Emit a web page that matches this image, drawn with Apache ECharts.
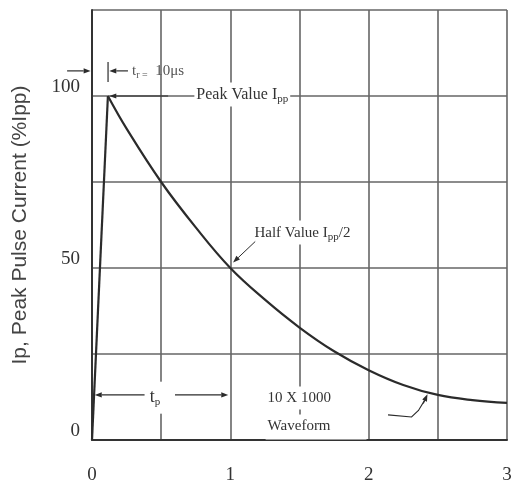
<!DOCTYPE html>
<html>
<head>
<meta charset="utf-8">
<script src="https://cdn.jsdelivr.net/npm/echarts@6/dist/echarts.min.js"></script>
<style>
  html, body { margin: 0; padding: 0; background: #fff; }
  #chart { width: 519px; height: 484px; }
</style>
</head>
<body>
<div id="chart"></div>
<script>
// time in units of the decay (0..3), current in % of Ipp
const riseT = [0, 0.115]
const riseV = [0, 100]
const decayT = [0.115, 0.25, 0.5, 0.75, 1.0, 1.25, 1.5, 1.75, 2.0, 2.25, 2.5, 2.75, 3.0]
const decayV = [100, 90.5, 75, 61.8, 50, 40.8, 32.7, 25.8, 20.3, 16.0, 13.1, 11.6, 10.8]
const xTickLabels = [0, 1, 2, 3]
const yTickLabels = [0, 50, 100]

const INK = "#2b2b2b"
const SERIF = "Liberation Serif"

const chart = echarts.init(document.getElementById("chart"), null, { renderer: "canvas" })

chart.setOption({
  animation: false,
  grid: { left: 92, right: 12, top: 10, bottom: 44, containLabel: false, outerBoundsMode: "none" },
  xAxis: {
    type: "value",
    min: 0,
    max: 3,
    interval: 0.5,
    axisLine: { lineStyle: { color: "#333", width: 2 } },
    axisTick: { show: false },
    axisLabel: {
      margin: 26,
      color: "#333",
      fontFamily: SERIF,
      fontSize: 19,
      formatter: v => (xTickLabels.includes(v) ? String(v) : "")
    },
    splitLine: { show: true, lineStyle: { color: "#666", width: 1.6 } }
  },
  yAxis: {
    type: "value",
    min: 0,
    max: 125,
    interval: 25,
    name: "Ip, Peak Pulse Current (%Ipp)",
    nameLocation: "middle",
    nameGap: 61,
    nameTextStyle: { color: "#444", fontFamily: "Liberation Sans", fontSize: 21 },
    axisLine: { show: true, lineStyle: { color: "#333", width: 2 } },
    axisTick: { show: false },
    axisLabel: {
      margin: 12,
      color: "#333",
      fontFamily: SERIF,
      fontSize: 19,
      lineHeight: 18,
      verticalAlign: "bottom",
      formatter: v => (yTickLabels.includes(v) ? String(v) : "")
    },
    splitLine: { show: true, lineStyle: { color: "#666", width: 1.6 } }
  },
  series: [
    {
      type: "line",
      showSymbol: false,
      lineStyle: { color: INK, width: 2.2 },
      data: riseT.map((t, i) => [t, riseV[i]])
    },
    {
      type: "line",
      showSymbol: false,
      smooth: 0.4,
      lineStyle: { color: INK, width: 2.2 },
      data: decayT.map((t, i) => [t, decayV[i]])
    }
  ]
})

// annotations are placed in data units and converted through the grid
const px = (t, v) => chart.convertToPixel({ gridIndex: 0 }, [t, v])

function arrow(from, to, width) {
  const a = px(from[0], from[1])
  const b = px(to[0], to[1])
  const ang = Math.atan2(b[1] - a[1], b[0] - a[0])
  const len = 7, half = 2.6
  const bx = b[0] - Math.cos(ang) * len, by = b[1] - Math.sin(ang) * len
  const nx = -Math.sin(ang) * half, ny = Math.cos(ang) * half
  return [
    { type: "line", z: 20, shape: { x1: a[0], y1: a[1], x2: bx, y2: by }, style: { stroke: INK, lineWidth: width || 1.2 } },
    { type: "polygon", z: 20, shape: { points: [[b[0], b[1]], [bx + nx, by + ny], [bx - nx, by - ny]] }, style: { fill: INK } }
  ]
}

function label(t, v, text, opts) {
  const p = px(t, v)
  return {
    type: "text",
    z: 15,
    x: p[0],
    y: p[1],
    style: Object.assign({
      text,
      fill: "#333",
      font: "15px " + SERIF,
      align: "left",
      verticalAlign: "middle",
      backgroundColor: "#fff",
      padding: [2, 2],
      rich: {
        sub: { fontSize: 11, fontFamily: SERIF, fill: "#333", padding: [9, 0, 0, 0] },
        small: { fontSize: 15, fontFamily: SERIF, fill: "#555" },
        tiny: { fontSize: 10, fontFamily: SERIF, fill: "#555", padding: [8, 0, 0, 0] }
      }
    }, opts || {})
  }
}

const tick = (t, v1, v2) => {
  const a = px(t, v1), b = px(t, v2)
  return { type: "line", z: 20, shape: { x1: a[0], y1: a[1], x2: b[0], y2: b[1] }, style: { stroke: INK, lineWidth: 1.2 } }
}

const hook = (() => {
  const pts = [[2.14, 7.3], [2.31, 6.7], [2.36, 8.6], [2.405, 11.6]].map(p => px(p[0], p[1]))
  return { type: "polyline", z: 20, shape: { points: pts }, style: { stroke: INK, lineWidth: 1.1, fill: null } }
})()

const graphics = [
  ...arrow([-0.18, 107.3], [-0.01, 107.3]),
  tick(0.116, 104.1, 109.9),
  ...arrow([0.26, 107.3], [0.125, 107.3]),
  label(0.29, 107.3, "{small|t}{tiny|r}{tiny| =}  {small|10μs}", { backgroundColor: null, padding: 0 }),
  ...arrow([0.55, 100], [0.125, 100]),
  label(0.74, 100.4, "Peak Value I{sub|pp}", { font: "16px " + SERIF }),
  label(1.16, 60.3, "Half Value I{sub|pp}/2"),
  ...arrow([1.18, 57.7], [1.02, 51.6], 1),
  ...arrow([0.38, 13.1], [0.02, 13.1]),
  ...arrow([0.6, 13.1], [0.985, 13.1]),
  label(0.455, 12.3, "t{sub|p}", { align: "center", font: "18px " + SERIF, padding: [6, 4] }),
  label(1.255, 12.2, "10 X 1000", { padding: [4, 30, 4, 2] }),
  label(1.255, 3.8, "Waveform", { padding: [4, 36, 6, 2] }),
  hook,
  ...arrow([2.395, 10.6], [2.425, 13.3], 1.1)
]

chart.setOption({ graphic: graphics })
</script>
</body>
</html>
